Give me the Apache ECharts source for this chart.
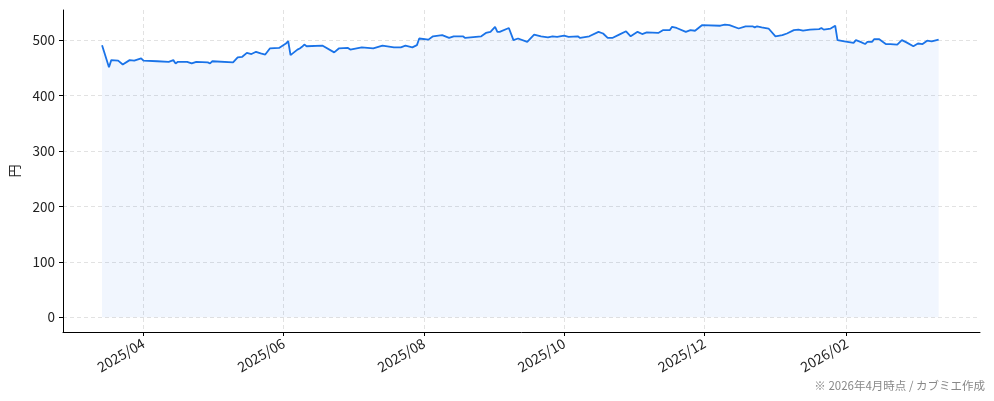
<!DOCTYPE html>
<html>
<head>
<meta charset="utf-8">
<script src="https://cdn.jsdelivr.net/npm/echarts@6/dist/echarts.min.js"></script>
<style>
  html, body { margin: 0; padding: 0; background: #fff; }
  #chart { width: 994px; height: 401px; }
</style>
</head>
<body>
<div id="chart"></div>
<script>
// 日付と株価（円）
var dates = [
  "2025-03-14","2025-03-17","2025-03-18","2025-03-21","2025-03-23","2025-03-26","2025-03-28","2025-03-31",
  "2025-04-01","2025-04-07","2025-04-12","2025-04-14","2025-04-15","2025-04-16","2025-04-20","2025-04-22",
  "2025-04-24","2025-04-29","2025-04-30","2025-05-01","2025-05-10","2025-05-12","2025-05-14","2025-05-16",
  "2025-05-18","2025-05-20","2025-05-22","2025-05-24","2025-05-26","2025-05-30","2025-06-02","2025-06-03",
  "2025-06-04","2025-06-07","2025-06-08","2025-06-09","2025-06-10","2025-06-11","2025-06-18","2025-06-23",
  "2025-06-25","2025-06-29","2025-06-30","2025-07-05","2025-07-10","2025-07-14","2025-07-19","2025-07-22",
  "2025-07-24","2025-07-27","2025-07-29","2025-07-30","2025-08-03","2025-08-05","2025-08-09","2025-08-12",
  "2025-08-14","2025-08-18","2025-08-19","2025-08-26","2025-08-28","2025-08-30","2025-09-01","2025-09-02",
  "2025-09-03","2025-09-07","2025-09-09","2025-09-11","2025-09-15","2025-09-18","2025-09-21","2025-09-24",
  "2025-09-26","2025-09-28","2025-10-01","2025-10-03","2025-10-07","2025-10-08","2025-10-12","2025-10-16",
  "2025-10-18","2025-10-20","2025-10-22","2025-10-25","2025-10-28","2025-10-30","2025-11-02","2025-11-04",
  "2025-11-06","2025-11-11","2025-11-13","2025-11-16","2025-11-17","2025-11-19","2025-11-23","2025-11-25",
  "2025-11-27","2025-11-30","2025-12-08","2025-12-10","2025-12-12","2025-12-16","2025-12-19","2025-12-22",
  "2025-12-23","2025-12-24","2025-12-26","2025-12-29","2026-01-01","2026-01-04","2026-01-06","2026-01-09",
  "2026-01-11","2026-01-13","2026-01-16","2026-01-20","2026-01-21","2026-01-22","2026-01-25","2026-01-27",
  "2026-01-28","2026-01-31","2026-02-04","2026-02-05","2026-02-07","2026-02-09","2026-02-10","2026-02-12",
  "2026-02-13","2026-02-15","2026-02-18","2026-02-20","2026-02-23","2026-02-25","2026-02-27","2026-03-02",
  "2026-03-04","2026-03-06","2026-03-08","2026-03-10","2026-03-13"
];
var prices = [
  491,451,464,463,456,464,463,467,
  463,462,461,464,458,461,461,458,
  461,460,458,462,460,469,470,477,
  475,479,476,474,485,486,494,498,
  473,483,485,488,492,489,490,478,
  485,486,483,487,485,490,487,487,
  490,487,491,503,501,507,509,504,
  507,507,504,507,513,515,524,515,
  515,522,500,503,497,510,507,505,
  507,506,508,506,507,504,507,515,
  512,504,504,510,516,507,515,511,
  514,513,518,518,524,522,515,518,
  517,527,526,528,527,521,525,525,
  523,525,523,521,507,509,512,518,
  519,517,519,520,522,519,521,526,
  500,498,495,500,497,493,497,497,
  502,502,493,493,492,500,496,489,
  494,493,499,498,501
];
var xTicks = ["2025-04-01","2025-06-01","2025-08-01","2025-10-01","2025-12-01","2026-02-01"];
var yTicks = [0, 100, 200, 300, 400, 500];

var font = "'Noto Sans CJK JP', 'Noto Sans', sans-serif";
var myChart = echarts.init(document.getElementById("chart"));

function toTime(d) { return new Date(d + "T00:00:00").getTime(); }
var xTickTimes = xTicks.map(toTime);

var option = {
  animation: false,
  textStyle: { fontFamily: font },
  grid: { left: 62, right: 14, top: 10, bottom: 69 },
  xAxis: {
    type: "value",
    min: new Date("2025-02-25T00:00:00").getTime(),
    max: toTime("2026-03-31"),
    axisLine: { show: true, onZero: false, lineStyle: { color: "#000", width: 1 } },
    axisTick: { show: true, length: 4, inside: false, customValues: xTickTimes, lineStyle: { color: "#000" } },
    axisLabel: {
      customValues: xTickTimes,
      rotate: 30,
      color: "#222",
      fontSize: 14,
      fontFamily: font,
      margin: 10,
      formatter: function (v) {
        var d = new Date(v);
        var m = d.getMonth() + 1;
        return d.getFullYear() + "/" + (m < 10 ? "0" + m : m);
      }
    },
    splitLine: { show: true, lineStyle: { color: "#e2e2e2", type: [4, 3], width: 1 } }
  },
  yAxis: {
    type: "value",
    min: -26.4,
    max: 554.4,
    name: "円",
    nameLocation: "middle",
    nameGap: 42,
    nameRotate: 90,
    nameTextStyle: { color: "#222", fontSize: 13, fontFamily: font },
    axisLine: { show: true, onZero: false, lineStyle: { color: "#000", width: 1 } },
    axisTick: { show: true, length: 4, customValues: yTicks, lineStyle: { color: "#000" } },
    axisLabel: { customValues: yTicks, color: "#222", fontSize: 13.5, fontFamily: font, margin: 8 },
    splitLine: { show: true, lineStyle: { color: "#e2e2e2", type: [4, 3], width: 1 } }
  },
  series: [
    {
      type: "line",
      data: dates.map(function (d, i) { return [toTime(d), prices[i]]; }),
      showSymbol: false,
      lineStyle: { color: "#1a73e8", width: 1.8 },
      itemStyle: { color: "#1a73e8" },
      areaStyle: { color: "rgba(26,115,232,0.09)", origin: 0 }
    }
  ],
  graphic: [
    {
      type: "text",
      right: 9,
      bottom: 10,
      style: { text: "※ 2026年4月時点 / カブミエ作成", fill: "#888", font: "11.5px " + font }
    }
  ]
};
myChart.setOption(option);
</script>
</body>
</html>
